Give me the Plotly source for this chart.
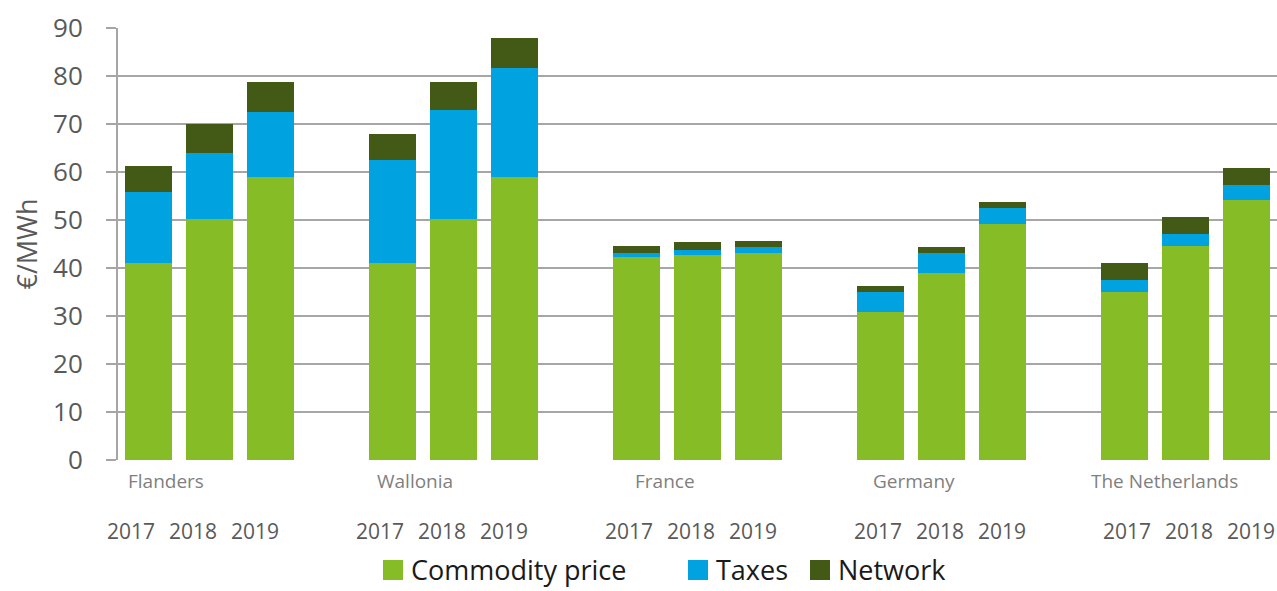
import plotly.graph_objects as go

countries = ["Flanders", "Wallonia", "France", "Germany", "The Netherlands"]
years = ["2017", "2018", "2019"]

commodity = [41.0, 50.3, 59.0, 41.0, 50.3, 59.0, 42.3, 42.7, 43.2, 30.9, 38.9, 49.2, 35.1, 44.6, 54.2]
taxes = [14.8, 13.7, 13.6, 21.6, 22.6, 22.6, 0.8, 1.05, 1.2, 4.2, 4.2, 3.3, 2.4, 2.5, 3.1]
network = [5.45, 5.9, 6.1, 5.4, 5.85, 6.4, 1.5, 1.65, 1.2, 1.15, 1.25, 1.25, 3.5, 3.5, 3.5]

y_ticks = [0, 10, 20, 30, 40, 50, 60, 70, 80, 90]

series_names = ["Commodity price", "Taxes", "Network"]
series_colors = ["#86BC25", "#00A3E0", "#435A17"]

# slot positions: 3 bars per country with one empty slot between countries
slots = [4 * g + j for g in range(len(countries)) for j in range(len(years))]

FONT = "Open Sans"
PLOT_L, PLOT_R, PLOT_T, PLOT_B = 118, 1277, 28, 460


def px_x(p):
    return (p - PLOT_L) / (PLOT_R - PLOT_L)


def px_y(p):
    return (PLOT_B - p) / (PLOT_B - PLOT_T)


fig = go.Figure()
for name, vals, col in zip(series_names, [commodity, taxes, network], series_colors):
    fig.add_trace(go.Bar(x=slots, y=vals, name=name, marker_color=col, width=0.77,
                         marker_line_width=0))

annotations = []
for i, k in enumerate(slots):
    annotations.append(dict(
        x=k * 1.0205 - 0.295, y=px_y(531), xref="x", yref="paper",
        text=years[i % 3], showarrow=False,
        font=dict(family=FONT, size=21, color="#595959"),
        xanchor="center", yanchor="middle"))
for g, c in enumerate(countries):
    annotations.append(dict(
        x=0.28 + 1.023 * 4 * g, y=px_y(481), xref="x", yref="paper",
        text=c, showarrow=False,
        font=dict(family=FONT, size=19, color="#7f7f7f"),
        xanchor="center", yanchor="middle"))

# legend drawn as coloured squares + labels beneath the plot
shapes = []
legend_sq_left = [383, 688, 810]
SQ = 20
LEG_CY = 570
for name, col, lx in zip(series_names, series_colors, legend_sq_left):
    shapes.append(dict(type="rect", xref="paper", yref="paper",
                       x0=px_x(lx), x1=px_x(lx + SQ), y0=px_y(LEG_CY + SQ / 2), y1=px_y(LEG_CY - SQ / 2),
                       fillcolor=col, line=dict(width=0)))
    annotations.append(dict(x=px_x(lx + SQ + 6), y=px_y(LEG_CY - 1), xref="paper", yref="paper",
                            text=name, showarrow=False, xanchor="left", yanchor="middle",
                            font=dict(family=FONT, size=27, color="#1a1a1a")))

fig.update_layout(
    width=1277, height=591,
    margin=dict(l=PLOT_L, r=1277 - PLOT_R, t=PLOT_T, b=591 - PLOT_B, autoexpand=False),
    paper_bgcolor="white", plot_bgcolor="white",
    barmode="stack",
    font=dict(family=FONT, color="#595959"),
    showlegend=False,
    annotations=annotations,
    shapes=shapes,
    xaxis=dict(range=[-0.5, 18.5], showticklabels=False, showgrid=False,
               zeroline=False, showline=False, ticks=""),
    yaxis=dict(range=[0, 90], tickvals=y_ticks, showgrid=True, gridcolor="#A6A6A6", gridwidth=2,
               zeroline=False, showline=True, linecolor="#A6A6A6", linewidth=2,
               ticks="outside", ticklen=10, tickcolor="#A6A6A6", tickwidth=2,
               ticklabelstandoff=18,
               tickfont=dict(family=FONT, size=26, color="#595959"),
               title=dict(text="€/MWh", font=dict(family=FONT, size=27, color="#595959"), standoff=8)),
)

fig.write_html("out.html", config={"displayModeBar": False},
               post_script="document.body.style.margin='0';")
